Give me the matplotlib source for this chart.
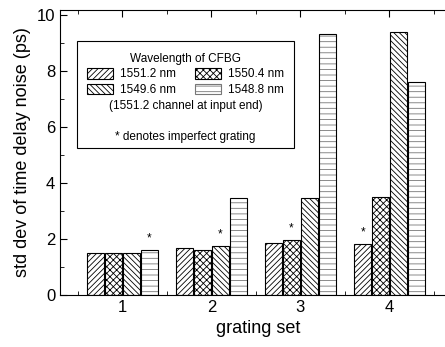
import matplotlib
matplotlib.use("Agg")
import matplotlib.pyplot as plt
import numpy as np
from matplotlib.patches import Patch, Rectangle
from matplotlib.ticker import MultipleLocator

plt.rcParams['font.family'] = ['Liberation Sans', 'DejaVu Sans']
plt.rcParams['hatch.linewidth'] = 0.6

# data
grating_sets = [1, 2, 3, 4]
wavelengths = ["1551.2 nm", "1550.4 nm", "1549.6 nm", "1548.8 nm"]
noise_1551_2 = [1.51, 1.67, 1.85, 1.81]
noise_1550_4 = [1.49, 1.61, 1.96, 3.51]
noise_1549_6 = [1.49, 1.75, 3.45, 9.40]
noise_1548_8 = [1.61, 3.45, 9.32, 7.62]
# index of imperfect grating (channel) in each set
imperfect = [3, 2, 1, 0]

series = [noise_1551_2, noise_1550_4, noise_1549_6, noise_1548_8]
hatches = ['//////', 'xxxxx', '\\\\\\\\\\\\', '---']
hatch_cols = ['black', 'black', 'black', '#777777']

fig = plt.figure(figsize=(4.45, 3.47), dpi=100)
ax = fig.add_axes([0.135, 0.150, 0.890, 0.821])

width = 0.19
offsets = [-0.3, -0.1, 0.1, 0.3]
x = np.array(grating_sets, dtype=float)
for vals, off, h, hc in zip(series, offsets, hatches, hatch_cols):
    #hatch layer, then black outline on top
    ax.bar(x + off, vals, width, facecolor='white', edgecolor=hc,
           hatch=h, linewidth=0)
    ax.bar(x + off, vals, width, fill=False, edgecolor='black', linewidth=0.8)

#stars above imperfect gratings
for i, ch in enumerate(imperfect):
    ax.text(x[i] + offsets[ch], series[ch][i] + 0.2, '*', ha='center',
            va='bottom', fontsize=8.5)

ax.set_xlim(0.3, 4.75)
ax.set_ylim(0, 10.18)
ax.set_xticks(grating_sets)
ax.xaxis.set_minor_locator(MultipleLocator(0.5))
ax.yaxis.set_major_locator(MultipleLocator(2))
ax.yaxis.set_minor_locator(MultipleLocator(1))
ax.tick_params(which='both', direction='in', top=True, right=True, labelsize=12)
ax.tick_params(which='major', length=5)
ax.tick_params(which='minor', length=3)
ax.set_xlabel("grating set", fontsize=13)
ax.set_ylabel("std dev of time delay noise (ps)", fontsize=13)

#legend box
ax.add_patch(Rectangle((0.043, 0.516), 0.547, 0.375, transform=ax.transAxes,
                       facecolor='white', edgecolor='black', linewidth=0.8, zorder=3))
handles = [Patch(facecolor='white', edgecolor=hc, hatch=h, linewidth=0.8)
           for h, hc in zip(hatches, hatch_cols)]
order = [0, 2, 1, 3]
leg = ax.legend([handles[k] for k in order], [wavelengths[k] for k in order],
                ncol=2, title="Wavelength of CFBG", frameon=False,
                loc='upper center', bbox_to_anchor=(0.317, 0.88),
                fontsize=8.5, title_fontsize=8.5, handlelength=2.2,
                handleheight=1.0, columnspacing=1.6, handletextpad=0.6,
                labelspacing=0.3, borderpad=0.2)
leg.set_zorder(4)
ax.text(0.317, 0.665, "(1551.2 channel at input end)", transform=ax.transAxes,
        ha='center', va='center', fontsize=8.5, zorder=5)
ax.text(0.317, 0.555, "* denotes imperfect grating", transform=ax.transAxes,
        ha='center', va='center', fontsize=8.5, zorder=5)

fig.savefig("out.png", dpi=100)
